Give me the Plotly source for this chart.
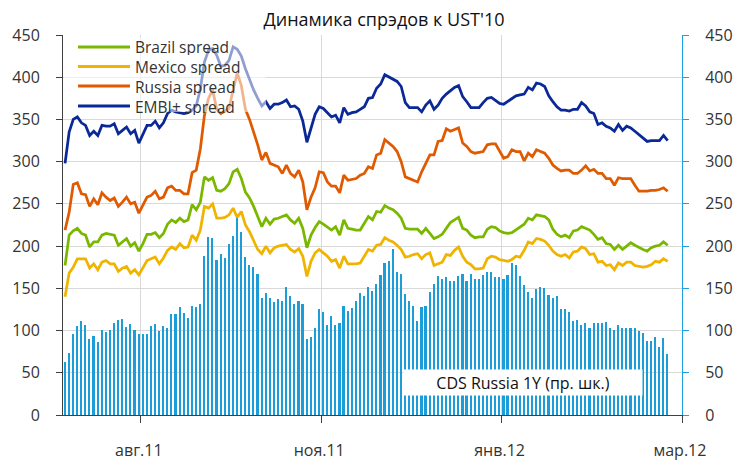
import plotly.graph_objects as go

# ---------------- data ----------------
tick_labels = ["авг.11", "ноя.11", "янв.12", "мар.12"]
tick_index = [18, 62, 106, 150]          # category index of each label
n_categories = 151

cds_russia_1y = [63, 73, 96, 105, 111, 107, 90, 93, 87, 101,
                 98, 101, 109, 113, 114, 104, 108, 101, 96, 96,
                 96, 105, 108, 100, 105, 103, 120, 120, 128, 121,
                 115, 129, 128, 132, 188, 211, 210, 184, 191, 186,
                 203, 212, 238, 217, 187, 178, 175, 167, 139, 145,
                 139, 134, 137, 135, 151, 141, 131, 135, 132, 90,
                 92, 103, 126, 122, 107, 117, 107, 109, 129, 123,
                 127, 135, 145, 141, 151, 147, 155, 166, 180, 182,
                 197, 169, 167, 143, 135, 129, 111, 128, 129, 146,
                 155, 165, 161, 164, 159, 159, 165, 167, 159, 167,
                 161, 161, 166, 169, 169, 164, 164, 161, 166, 180,
                 178, 165, 154, 146, 138, 149, 151, 150, 142, 139,
                 141, 126, 125, 122, 111, 112, 107, 109, 103, 109,
                 109, 109, 110, 103, 101, 107, 103, 103, 103, 103,
                 99, 97, 88, 88, 92, 80, 91, 72]

embi_spread = [298, 335, 350, 353, 346, 343, 331, 336, 331, 343,
               342, 342, 345, 333, 337, 341, 333, 337, 322, 332,
               343, 343, 348, 340, 346, 357, 361, 359, 358, 357,
               358, 361, 366, 386, 418, 432, 434, 426, 413, 414,
               420, 436, 433, 425, 410, 397, 385, 375, 366, 371,
               363, 368, 368, 370, 373, 365, 366, 362, 348, 323,
               340, 356, 365, 363, 358, 353, 355, 346, 364, 356,
               358, 359, 362, 365, 375, 376, 387, 392, 403, 400,
               397, 395, 389, 370, 364, 364, 364, 359, 367, 372,
               362, 367, 375, 380, 384, 388, 390, 377, 371, 364,
               364, 364, 370, 375, 376, 373, 369, 368, 371, 374,
               378, 379, 380, 388, 385, 393, 392, 389, 378, 371,
               365, 361, 361, 360, 362, 362, 370, 366, 359, 357,
               344, 346, 342, 340, 336, 344, 337, 342, 340, 336,
               332, 328, 324, 325, 325, 325, 331, 325]

russia_spread = [219, 240, 273, 275, 262, 261, 247, 256, 249, 263,
                 258, 254, 257, 247, 252, 258, 250, 252, 239, 249,
                 258, 260, 265, 256, 258, 269, 271, 266, 266, 262,
                 262, 287, 290, 315, 355, 375, 385, 362, 357, 360,
                 363, 385, 405, 390, 362, 350, 336, 320, 302, 311,
                 298, 296, 294, 286, 296, 286, 282, 290, 276, 243,
                 258, 269, 288, 287, 276, 271, 271, 263, 284, 278,
                 279, 280, 284, 286, 294, 292, 308, 310, 326, 322,
                 318, 312, 300, 282, 280, 278, 276, 288, 299, 308,
                 308, 324, 325, 339, 336, 338, 340, 322, 318, 312,
                 310, 311, 312, 320, 321, 321, 312, 304, 306, 314,
                 312, 312, 301, 310, 306, 314, 312, 310, 304, 296,
                 292, 289, 290, 290, 286, 286, 290, 295, 289, 291,
                 286, 286, 280, 280, 272, 281, 280, 280, 280, 272,
                 265, 265, 265, 266, 266, 267, 269, 265]

brazil_spread = [177, 213, 218, 221, 215, 213, 199, 205, 205, 213,
                 215, 214, 213, 201, 205, 209, 200, 204, 194, 203,
                 214, 214, 216, 210, 215, 226, 231, 228, 233, 229,
                 231, 249, 243, 252, 282, 278, 281, 266, 265, 268,
                 274, 288, 291, 280, 264, 257, 247, 235, 223, 233,
                 226, 232, 233, 235, 237, 231, 227, 233, 221, 198,
                 213, 222, 229, 226, 223, 219, 223, 213, 231, 221,
                 220, 219, 219, 227, 235, 231, 241, 240, 248, 245,
                 243, 239, 233, 221, 220, 220, 220, 215, 221, 215,
                 209, 211, 214, 221, 228, 231, 234, 221, 219, 213,
                 210, 211, 211, 220, 223, 222, 218, 216, 215, 216,
                 219, 222, 226, 233, 231, 237, 236, 235, 231, 220,
                 214, 211, 213, 210, 218, 219, 223, 221, 219, 214,
                 208, 210, 203, 202, 196, 201, 196, 200, 204, 201,
                 198, 196, 194, 198, 200, 201, 205, 201]

mexico_spread = [140, 168, 175, 185, 185, 185, 174, 179, 172, 181,
                 183, 179, 179, 170, 174, 176, 168, 172, 166, 174,
                 183, 185, 187, 179, 186, 195, 199, 196, 203, 198,
                 199, 213, 207, 219, 247, 245, 250, 233, 233, 234,
                 237, 245, 234, 241, 225, 217, 207, 196, 191, 200,
                 192, 198, 200, 201, 202, 196, 193, 197, 188, 164,
                 182, 192, 196, 192, 188, 182, 184, 174, 188, 179,
                 179, 179, 180, 188, 196, 194, 201, 202, 210, 207,
                 205, 201, 196, 187, 188, 190, 191, 185, 190, 192,
                 177, 179, 181, 190, 189, 195, 199, 188, 181, 178,
                 173, 173, 174, 185, 188, 187, 184, 183, 182, 184,
                 188, 187, 195, 205, 203, 209, 208, 206, 201, 194,
                 190, 188, 190, 186, 193, 194, 199, 197, 190, 191,
                 181, 182, 177, 178, 172, 180, 177, 181, 181, 177,
                 176, 175, 176, 178, 182, 181, 185, 182]

series_names = ["Brazil spread", "Mexico spread", "Russia spread", "EMBI+ spread"]
series_values = [brazil_spread, mexico_spread, russia_spread, embi_spread]
series_colors = ["#7AB800", "#F0B400", "#DF5A00", "#0A2896"]
bar_name = "CDS Russia 1Y (пр. шк.)"
title_text = "Динамика спрэдов к UST'10"

# ---------------- figure ----------------
# page body has an 8px default margin -> figure is drawn at (8, 8)
OFF = 8
WIN_W, WIN_H = 748, 463
W, H = WIN_W - OFF, WIN_H - OFF
PLOT_L, PLOT_R, PLOT_T, PLOT_B = 63, 682, 35, 415   # window pixels
L, R, T, B = PLOT_L - OFF, WIN_W - PLOT_R, PLOT_T - OFF, WIN_H - PLOT_B
PW, PH = PLOT_R - PLOT_L, PLOT_B - PLOT_T
FONT = "Open Sans"
TXT = "#333333"
GRID = "#D9D9D9"
BAR_COLOR = "#1B9DD9"


def px(xpix):
    return (xpix - PLOT_L) / PW


def py(ypix):
    return (PLOT_B - ypix) / PH


idx = list(range(len(cds_russia_1y)))

fig = go.Figure()
fig.add_trace(go.Bar(x=idx, y=cds_russia_1y, name=bar_name, yaxis="y",
                     marker=dict(color=BAR_COLOR, line=dict(width=0)),
                     width=0.4))
for name, vals, col in zip(series_names, series_values, series_colors):
    fig.add_trace(go.Scatter(x=idx, y=vals, name=name, mode="lines", yaxis="y2",
                             line=dict(color=col, width=2.75)))

minor_pos = [t + 0.5 for t in tick_index]

fig.update_layout(
    width=W, height=H,
    margin=dict(l=L, r=R, t=T, b=B, autoexpand=False),
    paper_bgcolor="white", plot_bgcolor="white",
    showlegend=False,
    font=dict(family=FONT, color=TXT, size=16),
    title=dict(text=title_text, x=px(384), xref="paper", xanchor="center",
               y=1 - (20 - OFF) / H, yanchor="middle",
               font=dict(family=FONT, size=18, color="#111111")),
    xaxis=dict(range=[-0.5, n_categories - 0.5], tickmode="array",
               tickvals=tick_index, ticktext=tick_labels, ticks="",
               showgrid=False, zeroline=False, showline=True, automargin=False,
               linecolor="#404040", linewidth=1,
               tickfont=dict(size=16, color=TXT), ticklabelstandoff=21,
               minor=dict(tickmode="array", tickvals=minor_pos, ticks="outside",
                          ticklen=7, tickcolor="#404040", showgrid=True,
                          gridcolor=GRID, gridwidth=1)),
    yaxis=dict(side="right", range=[0, 450], dtick=50, tick0=0, automargin=False,
               showgrid=True, gridcolor=GRID, gridwidth=1, zeroline=False,
               showline=True, linecolor="#1BA1E2", linewidth=1,
               ticks="outside", ticklen=6, tickcolor="#1BA1E2",
               tickfont=dict(size=16, color=TXT), ticklabelstandoff=13),
    yaxis2=dict(overlaying="y", side="left", range=[0, 450], dtick=50, tick0=0,
                automargin=False,
                showgrid=False, zeroline=False, showline=True,
                linecolor="#404040", linewidth=1,
                ticks="outside", ticklen=6, tickcolor="#404040",
                tickfont=dict(size=16, color=TXT), ticklabelstandoff=13),
    bargap=0,
)

# legend (semi-transparent panel with line samples + labels)
shapes = [dict(type="rect", xref="paper", yref="paper",
               x0=px(64), x1=px(266), y0=py(112), y1=py(37),
               fillcolor="rgba(255,255,255,0.55)", line=dict(width=0),
               layer="above")]
annotations = []
legend_rows = [47, 66.5, 86, 106]
for name, col, yrow in zip(series_names, series_colors, legend_rows):
    shapes.append(dict(type="line", xref="paper", yref="paper",
                       x0=px(78), x1=px(130), y0=py(yrow), y1=py(yrow),
                       line=dict(color=col, width=3), layer="above"))
    annotations.append(dict(text=name, xref="paper", yref="paper",
                            x=px(134), y=py(yrow), xanchor="left", yanchor="middle",
                            showarrow=False, height=17, borderpad=0,
                            font=dict(size=15.5, color=TXT)))

annotations.append(dict(text=bar_name, xref="paper", yref="paper",
                        x=px(523), y=py(382.5), xanchor="center", yanchor="middle",
                        showarrow=False, bgcolor="white", borderpad=0,
                        width=238, height=25,
                        font=dict(size=16, color="#111111")))

fig.update_layout(shapes=shapes, annotations=annotations)
fig.write_html("out.html")
